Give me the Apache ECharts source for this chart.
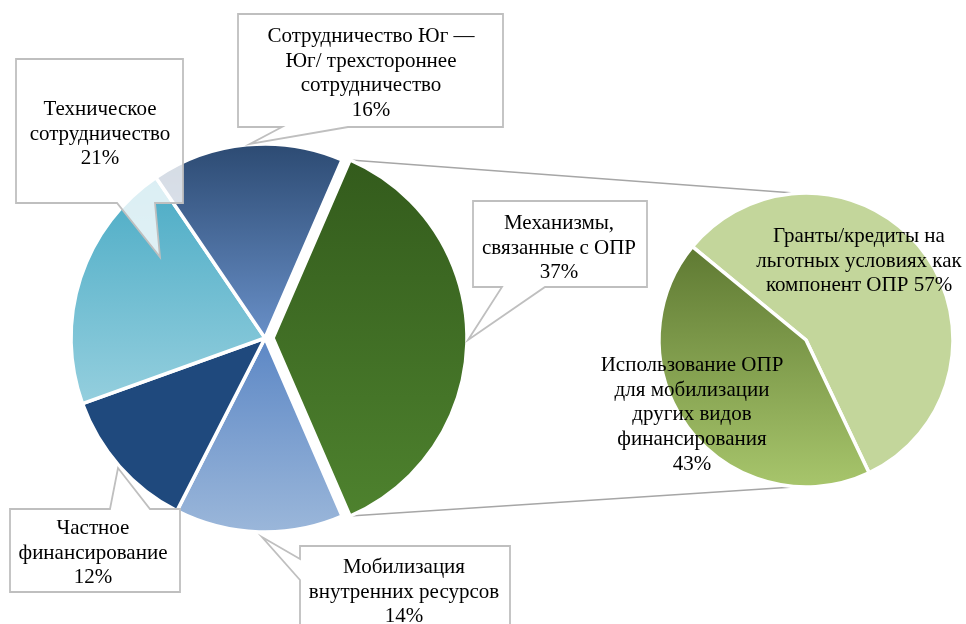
<!DOCTYPE html>
<html><head><meta charset="utf-8">
<script src="https://cdn.jsdelivr.net/npm/echarts@6/dist/echarts.min.js"></script>
<style>html,body{margin:0;padding:0;background:#fff}#c{width:966px;height:624px}</style>
</head><body><div id="c"></div>
<script>
// ---- data ----
const categories = [
  'Механизмы,\nсвязанные с ОПР',
  'Мобилизация\nвнутренних ресурсов',
  'Частное\nфинансирование',
  'Техническое\nсотрудничество',
  'Сотрудничество Юг —\nЮг/ трехстороннее\nсотрудничество'
];
const values = [37, 14, 12, 21, 16];
const subCategories = [
  'Гранты/кредиты на\nльготных условиях как\nкомпонент ОПР',
  'Использование ОПР\nдля мобилизации\nдругих видов\nфинансирования'
];
const subValues = [57, 43];

// ---- layout / style ----
const FONT = '"Liberation Serif", "Times New Roman", serif';
const mainCenter = [265, 338], mainR = 194, explode = 8;
const subCenter = [806, 340], subR = 147;
function lg(c0, c1) {
  return {type: 'linear', x: 0, y: 0, x2: 0, y2: 1,
    colorStops: [{offset: 0, color: c0}, {offset: 1, color: c1}]};
}
const mainColors = [
  lg('#335B1C', '#4E822E'),
  lg('#5C87C5', '#9BB7DA'),
  '#1F497D',
  lg('#4AABC5', '#95CFDE'),
  lg('#2C4A72', '#6990C8')
];
const subColors = ['#C3D69B', lg('#5E7932', '#A8C66C')];
const labelPos = [[559, 211], [404, 555], [93, 516], [100, 97], [371, 24]];
const subLabelPos = [[859, 224], [692, 353]];
const callouts = [
  [[473,201],[647,201],[647,287],[545,287],[468,340],[502,287],[473,287]],
  [[300,546],[510,546],[510,640],[300,640],[300,580],[262,537],[300,559]],
  [[10,509],[110,509],[118,468],[150,509],[180,509],[180,592],[10,592]],
  [[16,59],[183,59],[183,203],[155,203],[160,257],[117,203],[16,203]],
  [[238,14],[503,14],[503,127],[348,127],[250,144],[282,127],[238,127]]
];

const labelStyle = {fontFamily: FONT, fontSize: 21, lineHeight: 24.7, color: '#000', align: 'center', overflow: 'none'};

const chart = echarts.init(document.getElementById('c'), null, {renderer: 'canvas'});
const mainData = categories.map((n, i) => ({name: n, value: values[i], selected: i === 0,
  itemStyle: {color: mainColors[i]}}));

chart.setOption({
  backgroundColor: '#fff',
  animation: false,
  series: [
    {
      type: 'pie', z: 2, center: mainCenter, radius: mainR, startAngle: 66.6, clockwise: true,
      selectedMode: 'single', selectedOffset: explode, silent: true,
      emphasis: {disabled: true},
      itemStyle: {borderColor: '#fff', borderWidth: 3.5},
      label: {show: false}, labelLine: {show: false},
      data: mainData
    },
    {
      type: 'pie', z: 10, center: mainCenter, radius: mainR, startAngle: 66.6, clockwise: true,
      silent: true, emphasis: {disabled: true},
      itemStyle: {color: 'rgba(0,0,0,0)', borderWidth: 0},
      label: Object.assign({show: true, position: 'inside', formatter: '{b}\n{c}%'}, labelStyle),
      labelLine: {show: false},
      labelLayout: p => ({x: labelPos[p.dataIndex][0], y: labelPos[p.dataIndex][1],
        align: 'center', verticalAlign: 'top', hideOverlap: false}),
      data: categories.map((n, i) => ({name: n, value: values[i]}))
    },
    {
      type: 'pie', z: 3, center: subCenter, radius: subR, startAngle: 140.6, clockwise: true,
      silent: true, emphasis: {disabled: true},
      itemStyle: {borderColor: '#fff', borderWidth: 3.5},
      label: Object.assign({show: true, position: 'inside',
        formatter: p => p.dataIndex === 0 ? p.name + ' ' + p.value + '%' : p.name + '\n' + p.value + '%'}, labelStyle),
      labelLine: {show: false},
      labelLayout: p => ({x: subLabelPos[p.dataIndex][0], y: subLabelPos[p.dataIndex][1],
        align: 'center', verticalAlign: 'top', hideOverlap: false}),
      data: subCategories.map((n, i) => ({name: n, value: subValues[i], itemStyle: {color: subColors[i]}}))
    }
  ]
});

// connector lines from the library's own pie layouts
const model = chart.getModel();
const lay = model.getSeriesByIndex(0).getData().getItemLayout(0);
const mid = (lay.startAngle + lay.endAngle) / 2;
const ox = Math.cos(mid) * explode, oy = Math.sin(mid) * explode;
const p1 = [lay.cx + lay.r * Math.cos(lay.startAngle) + ox, lay.cy + lay.r * Math.sin(lay.startAngle) + oy];
const p2 = [lay.cx + lay.r * Math.cos(lay.endAngle) + ox, lay.cy + lay.r * Math.sin(lay.endAngle) + oy];
const sl = model.getSeriesByIndex(2).getData().getItemLayout(0);
const q1 = [sl.cx - sl.r * 0.06, sl.cy - sl.r * 0.998];
const q2 = [sl.cx - sl.r * 0.06, sl.cy + sl.r * 0.998];

const graphics = callouts.map(pts => ({
  type: 'polygon', z: 5, silent: true,
  shape: {points: pts},
  style: {fill: 'rgba(255,255,255,0.8)', stroke: '#BFBFBF', lineWidth: 1.8, lineJoin: 'miter'}
}));
[[p1, q1], [p2, q2]].forEach(([a, b]) => graphics.push({
  type: 'line', z: 1, silent: true,
  shape: {x1: a[0], y1: a[1], x2: b[0], y2: b[1]},
  style: {stroke: '#A6A6A6', lineWidth: 1.6}
}));
chart.setOption({graphic: {elements: graphics}});
</script>
</body></html>
